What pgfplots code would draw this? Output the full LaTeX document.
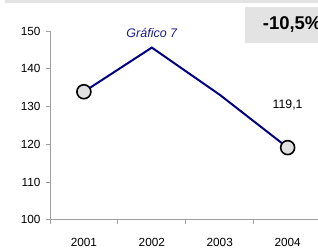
\documentclass[border=0pt]{standalone}
\usepackage{pgfplots}
\pgfplotsset{compat=1.18}
\usepackage{fontspec}
\setmainfont{Liberation Sans}
\definecolor{navyline}{HTML}{000080}
\definecolor{titleblue}{HTML}{1A1A8C}
\definecolor{axisgray}{HTML}{A0A0A0}
\definecolor{boxgray}{HTML}{E3E3E3}
\definecolor{markfill}{HTML}{E0E0E0}
\begin{document}
\begin{tikzpicture}
\path (0pt,0pt) rectangle (318pt,249pt);
\fill[boxgray] (5pt,246.3pt) rectangle (318pt,249pt);
\fill[boxgray] (245pt,206pt) rectangle (318pt,242pt);
\node[overlay,anchor=west,inner sep=0pt,font=\fontsize{18.5}{20}\selectfont\bfseries] at (263pt,224.5pt) {-10,5\%};
\begin{axis}[
  at={(50pt,29pt)}, anchor=south west,
  width=268pt, height=189pt, scale only axis,
  xmin=-0.5, xmax=3.441, ymin=100, ymax=150,
  clip=false,
  axis lines*=left,
  axis line style={axisgray, line width=0.8pt},
  tick style={axisgray, line width=0.8pt},
  tick align=outside,
  xtick={0,1,2,3},
  xticklabels={2001,2002,2003,2004},
  major x tick style={draw=none},
  minor xtick={-0.5,0.5,1.5,2.5},
  minor tick length=4pt,
  major tick length=4pt,
  ytick={100,110,120,130,140,150},
  /pgf/number format/assume math mode=true,
  ticklabel style={font=\fontsize{11.8}{13}\selectfont},
  xticklabel style={yshift=-11pt},
  yticklabel style={xshift=-2pt},
]
\addplot[navyline, line width=2pt,
  mark=*, mark indices={1,4}, mark size=7pt,
  mark options={fill=markfill, draw=black, line width=1.6pt}]
  coordinates {(0,133.9) (1,145.6) (2,133.1) (3,119.1)};
\node[font=\fontsize{12.5}{14}\selectfont\itshape, text=titleblue] at (axis cs:1,149.6) {Gráfico 7};
\node[font=\fontsize{12.3}{14}\selectfont] at (axis cs:3,130.3) {119,1};
\end{axis}
\end{tikzpicture}
\end{document}
